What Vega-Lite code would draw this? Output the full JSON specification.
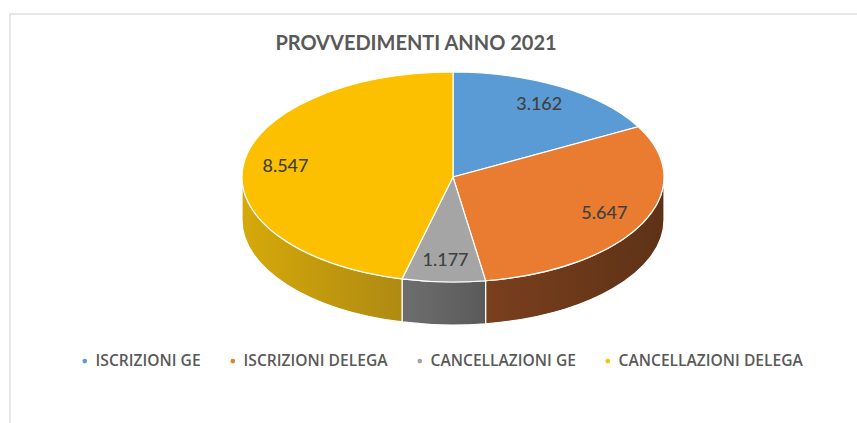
{
  "$schema": "https://vega.github.io/schema/vega-lite/v6.json",
  "width": 850,
  "height": 413,
  "padding": {"left": 10, "top": 14, "right": 0, "bottom": 0},
  "autosize": {"type": "none"},
  "background": "white",
  "view": {"stroke": "#e6e6e6", "strokeWidth": 2},
  "title": {"text": "PROVVEDIMENTI ANNO 2021", "font": "Lato", "fontSize": 20, "fontWeight": "bold", "color": "#595959", "anchor": "middle", "frame": "group", "dx": -19, "offset": -40, "orient": "top"},
  "data": {"values": [
    {"voce": "ISCRIZIONI GE", "ordine": 1, "valore": 3162},
    {"voce": "ISCRIZIONI DELEGA", "ordine": 2, "valore": 5647},
    {"voce": "CANCELLAZIONI GE", "ordine": 3, "valore": 1177},
    {"voce": "CANCELLAZIONI DELEGA", "ordine": 4, "valore": 8547}
  ]},
  "transform": [
    {"stack": "valore", "sort": [{"field": "ordine", "order": "ascending"}], "as": ["v0", "v1"]},
    {"joinaggregate": [{"op": "sum", "field": "valore", "as": "totale"}]},
    {"calculate": "datum.v0/datum.totale*2*PI", "as": "t0"},
    {"calculate": "datum.v1/datum.totale*2*PI", "as": "t1"},
    {"calculate": "(datum.t0+datum.t1)/2", "as": "tm"},
    {"calculate": "0.8*sin(datum.tm)", "as": "lx"},
    {"calculate": "0.8*cos(datum.tm)", "as": "ly"},
    {"calculate": "replace(format(datum.valore,','),',','.')", "as": "etichetta"},
    {"calculate": "'M0,0L'+(211*sin(datum.t0))+','+(-105*cos(datum.t0))+'A211,105 0 '+((datum.t1-datum.t0)>PI?1:0)+' 1 '+(211*sin(datum.t1))+','+(-105*cos(datum.t1))+'Z'", "as": "spicchio"},
    {"calculate": "max(datum.t0,PI/2)", "as": "ta"},
    {"calculate": "min(datum.t1,3*PI/2)", "as": "tb"},
    {"calculate": "'M'+(211*sin(datum.ta))+','+(-105*cos(datum.ta))+'A211,105 0 0 1 '+(211*sin(datum.tb))+','+(-105*cos(datum.tb))+'L'+(211*sin(datum.tb))+','+(43-105*cos(datum.tb))+'A211,105 0 0 0 '+(211*sin(datum.ta))+','+(43-105*cos(datum.ta))+'Z'", "as": "parete"}
  ],
  "layer": [
    {
      "transform": [{"filter": "datum.ordine==2"}],
      "mark": {"type": "point", "filled": true, "size": 4, "opacity": 1, "stroke": "white", "strokeWidth": 1.2,
        "fill": {"x1": 0, "y1": 0, "x2": 1, "y2": 0, "gradient": "linear", "stops": [{"offset": 0, "color": "#7a3f1d"}, {"offset": 1, "color": "#5e3217"}]}},
      "encoding": {
        "x": {"datum": 0, "type": "quantitative", "scale": {"domain": [-1, 1], "range": [232, 654]}, "axis": null},
        "y": {"datum": 0, "type": "quantitative", "scale": {"domain": [-1, 1], "range": [268, 58]}, "axis": null},
        "shape": {"field": "parete", "type": "nominal", "scale": null, "legend": null}}
    },
    {
      "transform": [{"filter": "datum.ordine==3"}],
      "mark": {"type": "point", "filled": true, "size": 4, "opacity": 1, "stroke": "white", "strokeWidth": 1.2,
        "fill": {"x1": 0, "y1": 0, "x2": 1, "y2": 0, "gradient": "linear", "stops": [{"offset": 0, "color": "#6e6e6e"}, {"offset": 1, "color": "#5a5a5a"}]}},
      "encoding": {
        "x": {"datum": 0, "type": "quantitative", "scale": {"domain": [-1, 1], "range": [232, 654]}, "axis": null},
        "y": {"datum": 0, "type": "quantitative", "scale": {"domain": [-1, 1], "range": [268, 58]}, "axis": null},
        "shape": {"field": "parete", "type": "nominal", "scale": null, "legend": null}}
    },
    {
      "transform": [{"filter": "datum.ordine==4"}],
      "mark": {"type": "point", "filled": true, "size": 4, "opacity": 1, "stroke": "white", "strokeWidth": 1.2,
        "fill": {"x1": 0, "y1": 0, "x2": 1, "y2": 0, "gradient": "linear", "stops": [{"offset": 0, "color": "#d6a90a"}, {"offset": 1, "color": "#ae8a12"}]}},
      "encoding": {
        "x": {"datum": 0, "type": "quantitative", "scale": {"domain": [-1, 1], "range": [232, 654]}, "axis": null},
        "y": {"datum": 0, "type": "quantitative", "scale": {"domain": [-1, 1], "range": [268, 58]}, "axis": null},
        "shape": {"field": "parete", "type": "nominal", "scale": null, "legend": null}}
    },
    {
      "mark": {"type": "point", "filled": true, "size": 4, "opacity": 1, "stroke": "white", "strokeWidth": 1.2},
      "encoding": {
        "x": {"datum": 0, "type": "quantitative", "scale": {"domain": [-1, 1], "range": [232, 654]}, "axis": null},
        "y": {"datum": 0, "type": "quantitative", "scale": {"domain": [-1, 1], "range": [268, 58]}, "axis": null},
        "shape": {"field": "spicchio", "type": "nominal", "scale": null, "legend": null},
        "color": {
          "field": "voce", "type": "nominal",
          "sort": ["ISCRIZIONI GE", "ISCRIZIONI DELEGA", "CANCELLAZIONI GE", "CANCELLAZIONI DELEGA"],
          "scale": {"domain": ["ISCRIZIONI GE", "ISCRIZIONI DELEGA", "CANCELLAZIONI GE", "CANCELLAZIONI DELEGA"], "range": ["#5b9bd5", "#e97c30", "#a5a5a5", "#fcc000"]},
          "legend": {"title": null, "orient": "none", "legendX": 67, "legendY": 339, "direction": "horizontal", "columns": 4, "gridAlign": "each", "columnPadding": 24, "symbolType": "circle", "symbolSize": 22, "symbolStrokeWidth": 0, "symbolOpacity": 1, "labelFont": "Open Sans", "labelFontSize": 15.6, "labelFontWeight": 600, "labelColor": "#595959", "labelLimit": 300, "labelOffset": 3}
        }
      }
    },
    {
      "mark": {"type": "text", "font": "Lato", "fontSize": 18, "fontWeight": 500, "color": "#404040", "align": "center", "baseline": "middle"},
      "encoding": {
        "x": {"field": "lx", "type": "quantitative", "scale": {"domain": [-1, 1], "range": [232, 654]}, "axis": null},
        "y": {"field": "ly", "type": "quantitative", "scale": {"domain": [-1, 1], "range": [268, 58]}, "axis": null},
        "text": {"field": "etichetta", "type": "nominal"}
      }
    }
  ]
}
